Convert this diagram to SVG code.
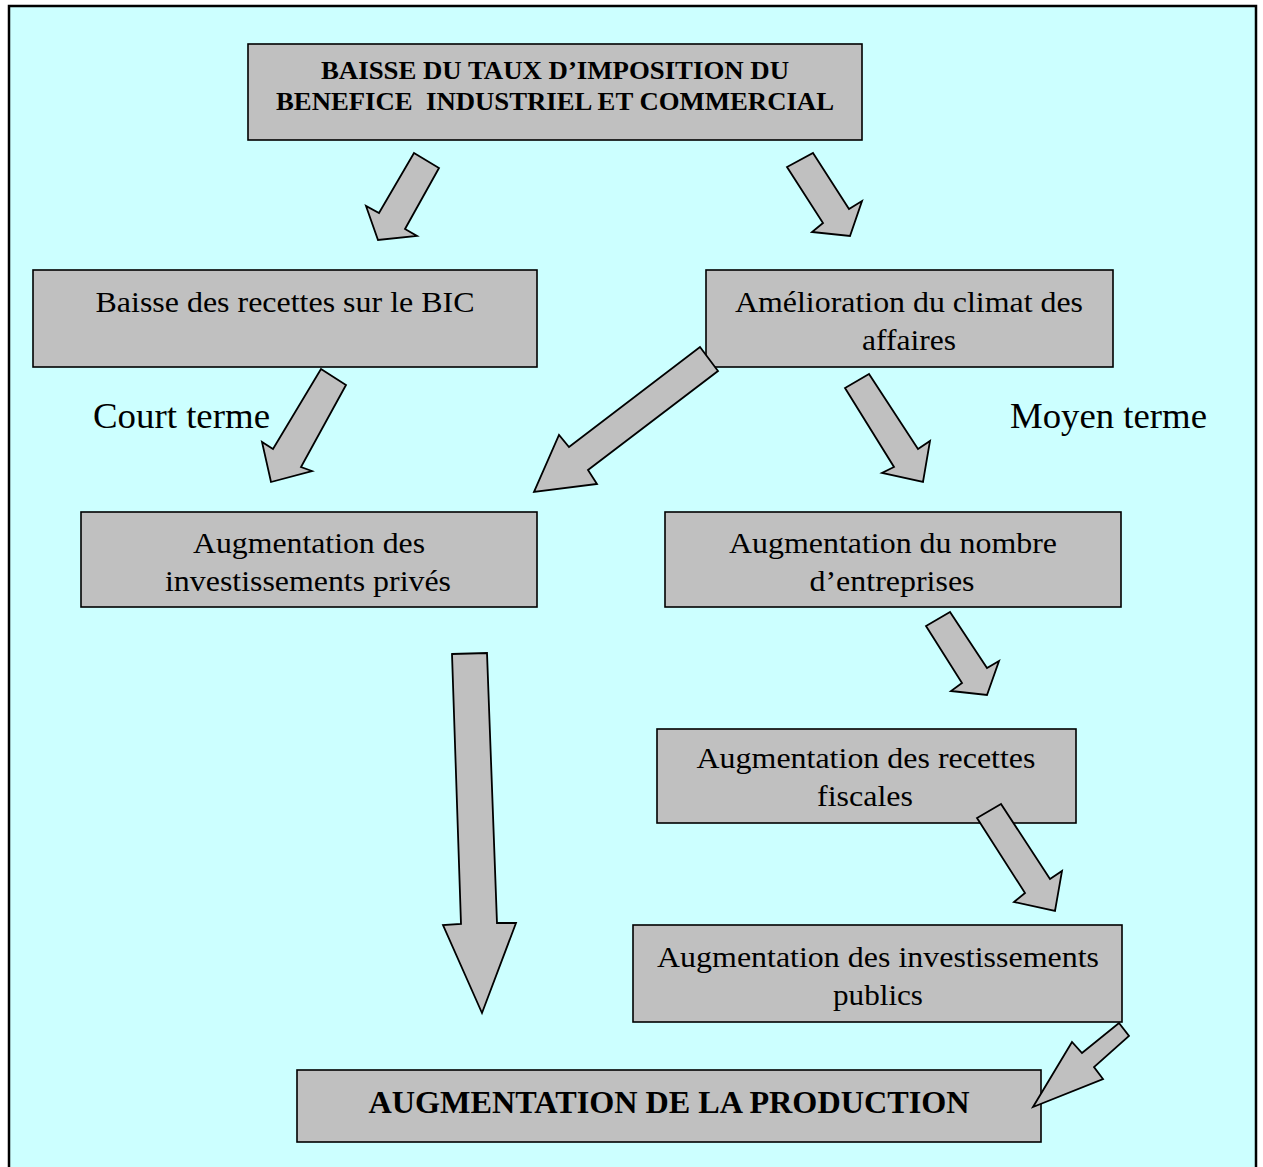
<svg xmlns="http://www.w3.org/2000/svg" width="1263" height="1167" viewBox="0 0 1263 1167">
<style>
.box{fill:#c0c0c0;stroke:#000;stroke-width:1.6}
.arr{fill:#c0c0c0;stroke:#000;stroke-width:1.8;stroke-linejoin:miter}
.t{font-family:"Liberation Serif","Times New Roman",serif;font-size:29px;fill:#000;text-anchor:middle}
.tb{font-family:"Liberation Serif","Times New Roman",serif;font-weight:bold;fill:#000;text-anchor:middle}
.lbl{font-family:"Liberation Serif","Times New Roman",serif;font-size:35px;fill:#000}
</style>
<rect x="0" y="0" width="1263" height="1167" fill="#ffffff"/>
<rect x="9" y="6" width="1247" height="1170" fill="#ccffff" stroke="#000" stroke-width="2.5"/>
<g id="n-top"><rect class="box" x="248" y="44" width="614" height="96"/>
<text class="tb" font-size="25" x="555" y="79" textLength="468" lengthAdjust="spacingAndGlyphs">BAISSE DU TAUX D’IMPOSITION DU</text>
<text class="tb" font-size="25" x="555" y="110" textLength="558" lengthAdjust="spacingAndGlyphs" xml:space="preserve">BENEFICE  INDUSTRIEL ET COMMERCIAL</text></g>
<g id="n-recettes-bic"><rect class="box" x="33" y="270" width="504" height="97"/>
<text class="t" x="285" y="312" textLength="379" lengthAdjust="spacingAndGlyphs">Baisse des recettes sur le BIC</text></g>
<g id="n-climat"><rect class="box" x="706" y="270" width="407" height="97"/>
<text class="t" x="909" y="312" textLength="348" lengthAdjust="spacingAndGlyphs">Amélioration du climat des</text>
<text class="t" x="909" y="350" textLength="94" lengthAdjust="spacingAndGlyphs">affaires</text></g>
<g id="n-inv-prives"><rect class="box" x="81" y="512" width="456" height="95"/>
<text class="t" x="309" y="553" textLength="232" lengthAdjust="spacingAndGlyphs">Augmentation des</text>
<text class="t" x="308" y="591" textLength="286" lengthAdjust="spacingAndGlyphs">investissements privés</text></g>
<g id="n-nombre"><rect class="box" x="665" y="512" width="456" height="95"/>
<text class="t" x="893" y="553" textLength="328" lengthAdjust="spacingAndGlyphs">Augmentation du nombre</text>
<text class="t" x="892" y="591" textLength="165" lengthAdjust="spacingAndGlyphs">d’entreprises</text></g>
<g id="n-recettes-fiscales"><rect class="box" x="657" y="729" width="419" height="94"/>
<text class="t" x="866" y="768" textLength="339" lengthAdjust="spacingAndGlyphs">Augmentation des recettes</text>
<text class="t" x="865" y="806" textLength="96" lengthAdjust="spacingAndGlyphs">fiscales</text></g>
<g id="n-inv-publics"><rect class="box" x="633" y="925" width="489" height="97"/>
<text class="t" x="878" y="967" textLength="442" lengthAdjust="spacingAndGlyphs">Augmentation des investissements</text>
<text class="t" x="878" y="1005" textLength="90" lengthAdjust="spacingAndGlyphs">publics</text></g>
<g id="n-production"><rect class="box" x="297" y="1070" width="744" height="72"/>
<text class="tb" font-size="31" x="669" y="1113" textLength="601" lengthAdjust="spacingAndGlyphs">AUGMENTATION DE LA PRODUCTION</text></g>
<text class="lbl" x="93" y="428" textLength="177" lengthAdjust="spacingAndGlyphs">Court terme</text>
<text class="lbl" x="1010" y="428" textLength="197" lengthAdjust="spacingAndGlyphs">Moyen terme</text>
<g id="connectors">
<polygon class="arr" points="414,153 439,168 405,229 417,236 378,240 366,206 379,213"/>
<polygon class="arr" points="813,153 849,209 862,201 850,236 812,232 823,223 787,167"/>
<polygon class="arr" points="321,369 346,385 301,467 312,471 271,482 262,442 273,449"/>
<polygon class="arr" points="700,347 718,371 588,470 597,484 534,492 559,435 569,447"/>
<polygon class="arr" points="869,374 845,388 894,467 882,473 923,482 930,441 918,449"/>
<polygon class="arr" points="452,654 487,653 497,923 516,923 482,1013 443,925 461,924"/>
<polygon class="arr" points="950,612 926,626 962,683 951,691 987,695 999,661 987,668"/>
<polygon class="arr" points="1001,804 977,818 1025,893 1014,902 1055,911 1062,871 1050,879"/>
<polygon class="arr" points="1119,1023 1129,1036 1094,1067 1103,1079 1033,1107 1072,1042 1082,1053"/>
</g>
</svg>
